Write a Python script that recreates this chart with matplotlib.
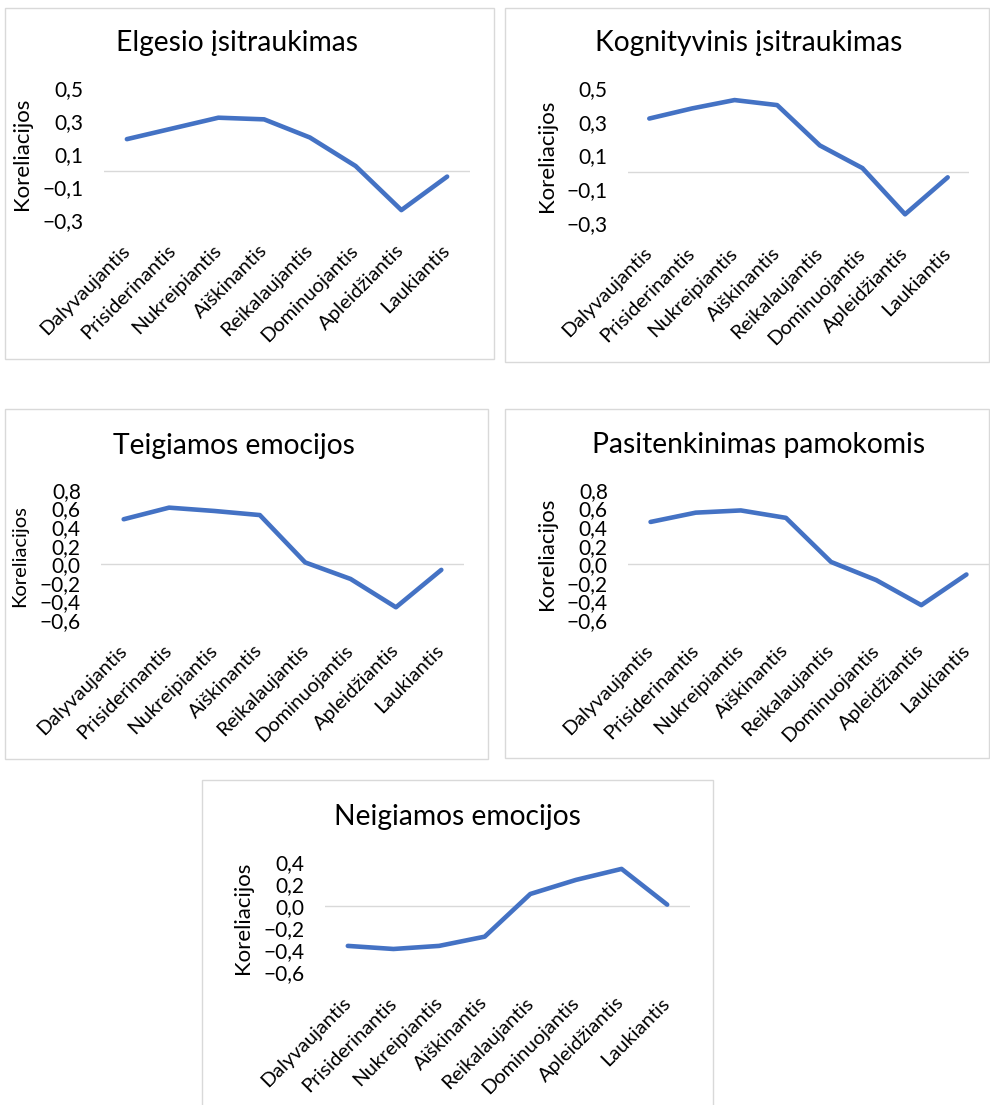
import matplotlib
matplotlib.use("Agg")
import matplotlib.pyplot as plt
from matplotlib.patches import Rectangle

plt.rcParams['font.family'] = ['Lato', 'DejaVu Sans']

categories = ["Dalyvaujantis", "Prisiderinantis", "Nukreipiantis", "Aiškinantis",
              "Reikalaujantis", "Dominuojantis", "Apleidžiantis", "Laukiantis"]

elgesio = [0.19, 0.255, 0.32, 0.31, 0.20, 0.027, -0.24, -0.037]
kognityvinis = [0.32, 0.38, 0.43, 0.40, 0.16, 0.025, -0.25, -0.03]
teigiamos = [0.485, 0.61, 0.574, 0.53, 0.02, -0.158, -0.463, -0.06]
pasitenkinimas = [0.456, 0.556, 0.58, 0.50, 0.025, -0.17, -0.44, -0.11]
neigiamos = [-0.36, -0.388, -0.36, -0.276, 0.112, 0.24, 0.34, 0.015]

titles = ["Elgesio įsitraukimas", "Kognityvinis įsitraukimas", "Teigiamos emocijos",
          "Pasitenkinimas pamokomis", "Neigiamos emocijos"]
ylabel = "Koreliacijos"

ticks_a = [-0.3, -0.1, 0.1, 0.3, 0.5]
ticks_b = [-0.6, -0.4, -0.2, 0.0, 0.2, 0.4, 0.6, 0.8]
ticks_c = [-0.6, -0.4, -0.2, 0.0, 0.2, 0.4]

W, H = 990, 1105
fig = plt.figure(figsize=(W / 100, H / 100), dpi=100)

LINE = '#4472C4'
GRAY = '#D9D9D9'

def fmt(v):
    s = f"{v:.1f}".replace('.', ',')
    if s.startswith('-'):
        s = '\u2212' + s[1:]
    if s == '\u22120,0':
        s = '0,0'
    return s

def border(x0, y0, x1, y1):
    fig.add_artist(Rectangle((x0 / W, 1 - y1 / H), (x1 - x0) / W, (y1 - y0) / H,
                             transform=fig.transFigure, fill=False,
                             edgecolor=GRAY, linewidth=1.0))

panels = [
    # data, title, ticks, axes px (x0,y0,x1,y1), title px (x,y), ylabel px (x,y), ylabel size, border
    (elgesio, titles[0], ticks_a, (104, 88, 470, 220), (237, 43), (22, 154), 16, (5, 8, 494, 359)),
    (kognityvinis, titles[1], ticks_a, (628, 88.3, 969, 222.7), (749, 43), (547, 156), 16, (505, 8, 989, 362)),
    (teigiamos, titles[2], ticks_b, (101, 490, 464, 620), (234, 446), (20, 556), 14.5, (5, 409, 488, 759)),
    (pasitenkinimas, titles[3], ticks_b, (628, 490, 989, 620), (759, 445), (547, 554), 16, (505, 409, 989, 758)),
    (neigiamos, titles[4], ticks_c, (325, 862.3, 690, 972.3), (457, 817), (243, 918), 16, (202, 780, 713, 1115)),
]

for data, title, ticks, (x0, y0, x1, y1), (tx, ty), (lx, ly), lsize, bd in panels:
    border(*bd)
    ax = fig.add_axes([x0 / W, 1 - y1 / H, (x1 - x0) / W, (y1 - y0) / H])
    ax.axhline(0, color=GRAY, linewidth=1.0, zorder=1)
    ax.plot(range(len(categories)), data, color=LINE, linewidth=3.3,
            solid_capstyle='round', solid_joinstyle='round', zorder=3)
    ax.set_xlim(-0.5, len(categories) - 0.5)
    ax.set_ylim(ticks[0], ticks[-1])
    ax.set_yticks(ticks)
    ax.set_yticklabels([fmt(t) for t in ticks], fontsize=15, color='#000000')
    ax.set_xticks(range(len(categories)))
    ax.set_xticklabels(categories, rotation=45, ha='right', va='center',
                       rotation_mode='anchor', fontsize=14.5)
    ax.tick_params(axis='both', length=0)
    ax.tick_params(axis='x', pad=20)
    ax.tick_params(axis='y', pad=14.5)
    for s in ax.spines.values():
        s.set_visible(False)
    ax.patch.set_alpha(0)
    fig.text(tx / W, 1 - ty / H, title, fontsize=20.3, ha='center', va='center')
    fig.text(lx / W, 1 - ly / H, ylabel, fontsize=lsize, rotation=90, ha='center', va='center')

fig.savefig("out.png", dpi=100, facecolor='white')
